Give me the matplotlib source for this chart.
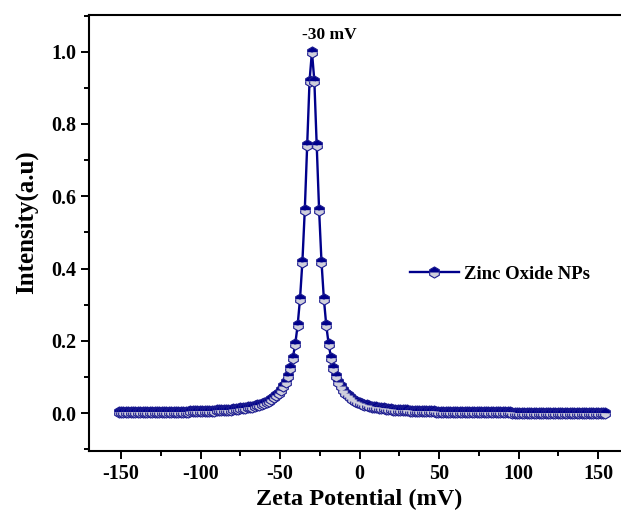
import matplotlib
matplotlib.use('Agg')
import matplotlib.pyplot as plt
from matplotlib.ticker import MultipleLocator

# zeta potential (mV)
zeta = [-151.5, -150.0, -148.5, -147.0, -145.5, -144.0, -142.5, -141.0, -139.5, -138.0,
        -136.5, -135.0, -133.5, -132.0, -130.5, -129.0, -127.5, -126.0, -124.5, -123.0,
        -121.5, -120.0, -118.5, -117.0, -115.5, -114.0, -112.5, -111.0, -109.5, -108.0,
        -106.5, -105.0, -103.5, -102.0, -100.5, -99.0, -97.5, -96.0, -94.5, -93.0,
        -91.5, -90.0, -88.5, -87.0, -85.5, -84.0, -82.5, -81.0, -79.5, -78.0,
        -76.5, -75.0, -73.5, -72.0, -70.5, -69.0, -67.5, -66.0, -64.5, -63.0,
        -61.5, -60.0, -58.5, -57.0, -55.5, -54.0, -52.5, -51.0, -49.5, -48.0,
        -46.5, -45.0, -43.5, -42.0, -40.5, -39.0, -37.5, -36.0, -34.5, -33.0,
        -31.5, -30.0,
        -28.5, -27.0, -25.5, -24.0, -22.5, -21.0, -19.5, -18.0, -16.5, -15.0,
        -13.5, -12.0, -10.5, -9.0, -7.5, -6.0, -4.5, -3.0, -1.5, 0.0,
        1.5, 3.0, 4.5, 6.0, 7.5, 9.0, 10.5, 12.0, 13.5, 15.0,
        16.5, 18.0, 19.5, 21.0, 22.5, 24.0, 25.5, 27.0, 28.5, 30.0,
        31.5, 33.0, 34.5, 36.0, 37.5, 39.0, 40.5, 42.0, 43.5, 45.0,
        46.5, 48.0, 49.5, 51.0, 52.5, 54.0, 55.5, 57.0, 58.5, 60.0,
        61.5, 63.0, 64.5, 66.0, 67.5, 69.0, 70.5, 72.0, 73.5, 75.0,
        76.5, 78.0, 79.5, 81.0, 82.5, 84.0, 85.5, 87.0, 88.5, 90.0,
        91.5, 93.0, 94.5, 96.0, 97.5, 99.0, 100.5, 102.0, 103.5, 105.0,
        106.5, 108.0, 109.5, 111.0, 112.5, 114.0, 115.5, 117.0, 118.5, 120.0,
        121.5, 123.0, 124.5, 126.0, 127.5, 129.0, 130.5, 132.0, 133.5, 135.0,
        136.5, 138.0, 139.5, 141.0, 142.5, 144.0, 145.5, 147.0, 148.5, 150.0,
        151.5, 153.0, 154.5]

# normalised intensity
intensity = [0.0018, 0.0018, 0.0018, 0.0019, 0.0019, 0.0020, 0.0021, 0.0021, 0.0022, 0.0022,
             0.0023, 0.0024, 0.0024, 0.0025, 0.0026, 0.0026, 0.0027, 0.0028, 0.0029, 0.0030,
             0.0031, 0.0032, 0.0033, 0.0034, 0.0035, 0.0037, 0.0038, 0.0039, 0.0041, 0.0043,
             0.0044, 0.0046, 0.0048, 0.0050, 0.0052, 0.0054, 0.0057, 0.0059, 0.0062, 0.0065,
             0.0068, 0.0072, 0.0075, 0.0079, 0.0084, 0.0088, 0.0093, 0.0099, 0.0105, 0.0112,
             0.0119, 0.0127, 0.0136, 0.0145, 0.0156, 0.0168, 0.0182, 0.0197, 0.0214, 0.0233,
             0.0255, 0.0281, 0.0310, 0.0344, 0.0384, 0.0432, 0.0489, 0.0557, 0.0640, 0.0743,
             0.0872, 0.1036, 0.125, 0.153, 0.191, 0.243, 0.316, 0.419, 0.562, 0.743,
             0.920, 1.000,
             0.920, 0.743, 0.562, 0.419, 0.316, 0.243, 0.191, 0.153, 0.125, 0.1036,
             0.0872, 0.0743, 0.0640, 0.0557, 0.0489, 0.0432, 0.0384, 0.0344, 0.0310, 0.0281,
             0.0255, 0.0233, 0.0214, 0.0197, 0.0182, 0.0168, 0.0156, 0.0145, 0.0136, 0.0127,
             0.0119, 0.0112, 0.0105, 0.0099, 0.0093, 0.0088, 0.0084, 0.0079, 0.0075, 0.0072,
             0.0068, 0.0065, 0.0062, 0.0059, 0.0057, 0.0054, 0.0052, 0.0050, 0.0048, 0.0046,
             0.0044, 0.0043, 0.0041, 0.0039, 0.0038, 0.0037, 0.0035, 0.0034, 0.0033, 0.0032,
             0.0031, 0.0030, 0.0029, 0.0028, 0.0027, 0.0026, 0.0026, 0.0025, 0.0024, 0.0024,
             0.0023, 0.0022, 0.0022, 0.0021, 0.0021, 0.0020, 0.0019, 0.0019, 0.0018, 0.0018,
             0.0018, 0.0017, 0.0017, 0.0016, 0.0016, 0.0016, 0.0015, 0.0015, 0.0015, 0.0014,
             0.0014, 0.0014, 0.0013, 0.0013, 0.0013, 0.0013, 0.0012, 0.0012, 0.0012, 0.0012,
             0.0011, 0.0011, 0.0011, 0.0011, 0.0010, 0.0010, 0.0010, 0.0010, 0.0010, 0.0010,
             0.0009, 0.0009, 0.0009, 0.0009, 0.0009, 0.0009, 0.0008, 0.0008, 0.0008, 0.0008,
             0.0008, 0.0008, 0.0008]

series_label = 'Zinc Oxide NPs'
peak_label = '-30 mV'
x_ticks = [-150, -100, -50, 0, 50, 100, 150]
y_ticks = [0.0, 0.2, 0.4, 0.6, 0.8, 1.0]

plt.rcParams['font.family'] = ['Liberation Serif', 'DejaVu Serif']
plt.rcParams['font.weight'] = 'bold'
plt.rcParams['axes.unicode_minus'] = False

navy = '#00008b'

fig = plt.figure(figsize=(6.21, 5.18), dpi=100)
ax = fig.add_axes([0.1438, 0.1293, 0.8707, 0.842])

ax.plot(zeta, intensity, color=navy, lw=1.7, marker='h', markersize=8,
        fillstyle='top', markerfacecolor=navy, markerfacecoloralt='#cfcfdc',
        markeredgecolor='#1c1c90', markeredgewidth=0.8, label=series_label)

ax.text(-19, 1.047, peak_label, ha='center', va='center', fontsize=12.5, fontweight='bold')

ax.set_xlim(-170, 170)
ax.set_ylim(-0.105, 1.102)
ax.set_xticks(x_ticks)
ax.set_yticks(y_ticks)
ax.xaxis.set_minor_locator(MultipleLocator(25))
ax.yaxis.set_minor_locator(MultipleLocator(0.1))
ax.set_yticklabels(['%.1f' % v for v in y_ticks])

ax.tick_params(which='major', direction='out', length=6, width=1.4, labelsize=14.5)
ax.tick_params(which='minor', direction='out', length=3.5, width=1.4)
for lbl in ax.get_xticklabels() + ax.get_yticklabels():
    lbl.set_fontweight('bold')
for s in ax.spines.values():
    s.set_linewidth(1.5)

ax.set_xlabel('Zeta Potential (mV)', fontsize=17.5, fontweight='bold', labelpad=3)
ax.set_ylabel('Intensity(a.u)', fontsize=18, fontweight='bold')
ax.yaxis.set_label_coords(-0.094, 0.525)

ax.legend(loc='center left', bbox_to_anchor=(0.593, 0.406), frameon=False,
          handlelength=2.6, handletextpad=0.3,
          borderaxespad=0, borderpad=0, prop={'weight': 'bold', 'size': 13.5})

fig.savefig('out.png', dpi=100)
